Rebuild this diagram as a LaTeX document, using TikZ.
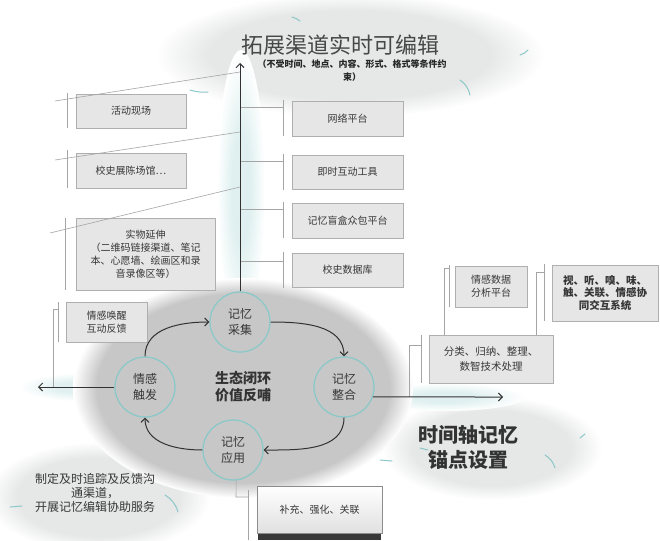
\documentclass[tikz,border=0pt]{standalone}
\usepackage{fontspec}
\setmainfont{Noto Sans CJK SC}
\usetikzlibrary{arrows.meta}
\definecolor{ellc}{RGB}{199,199,199}
\definecolor{cloudc}{RGB}{230,231,231}
\definecolor{tealc}{RGB}{140,200,200}
\definecolor{boxf}{RGB}{230,230,230}
\definecolor{boxd}{RGB}{175,175,175}
\definecolor{linec}{RGB}{165,165,165}
\definecolor{axisc}{RGB}{50,50,50}
\definecolor{txtc}{RGB}{55,55,55}
\definecolor{glowc}{RGB}{224,240,240}
\pgfdeclareradialshading{ellsoft}{\pgfpoint{0bp}{0bp}}{color(0bp)=(ellc); color(21.5bp)=(ellc); color(25bp)=(white); color(50bp)=(white)}
\pgfdeclareradialshading{cloudsoft}{\pgfpoint{0bp}{0bp}}{color(0bp)=(cloudc); color(18bp)=(cloudc); color(25bp)=(white); color(50bp)=(white)}
\pgfdeclareradialshading{glowsoft}{\pgfpoint{0bp}{0bp}}{color(0bp)=(glowc); color(10bp)=(glowc); color(25bp)=(white); color(50bp)=(white)}
\tikzset{
  gbox/.style={draw=boxd, fill=boxf, line width=0.6pt, align=center, text=txtc,
    font=\fontsize{10}{13}\selectfont, inner sep=0pt},
  memc/.style={circle, draw=tealc, line width=1.3pt, fill=ellc, minimum size=60pt,
    inner sep=0pt, align=center, text=txtc, font=\fontsize{12}{15.5}\selectfont},
  conn/.style={draw=linec, line width=0.6pt},
  axis/.style={draw=axisc, line width=1pt, -{Straight Barb[length=4pt,width=8pt]}},
  cyc/.style={draw=axisc, line width=1pt, -{Straight Barb[length=4pt,width=8pt]}},
  deco/.style={draw=tealc, line width=1pt, line cap=round}
}
\begin{document}
\begin{tikzpicture}[x=1pt,y=-1pt]
\useasboundingbox (0,0) rectangle (660,540);
\fill[white] (0,0) rectangle (660,540);
% clouds
\shade[shading=cloudsoft] (350,55) ellipse [x radius=195pt, y radius=62pt];
\shade[shading=cloudsoft] (492,448) ellipse [x radius=110pt, y radius=52pt];
\shade[shading=cloudsoft] (98,497) ellipse [x radius=112pt, y radius=55pt];
% glow along axes
\shade[shading=glowsoft] (241,190) ellipse [x radius=24pt, y radius=140pt];
\shade[shading=glowsoft] (80,387) ellipse [x radius=60pt, y radius=14pt];
\shade[shading=glowsoft] (445,397) ellipse [x radius=80pt, y radius=14pt];
% ellipse
\shade[shading=ellsoft] (243,388) ellipse [x radius=170pt, y radius=110pt];
% decorative teal strokes
\draw[deco] (292,17) to[bend left=10] (300,21);
\draw[deco] (190,90) to[bend right=10] (208,92);
\draw[deco] (520,55) to[bend right=15] (528,50);
\draw[deco] (460,80) to[bend left=20] (470,95);
\draw[deco] (380,460) -- (392,461);
\draw[deco] (545,455) to[bend left=20] (555,468);
\draw[deco] (580,438) -- (585,434);
\draw[deco] (10,507) -- (22,506);
\draw[deco] (165,495) to[bend left=20] (178,512);
\draw[deco] (420,448) -- (428,450);
% axis coordinates
\coordinate (axtop) at (240,63);
\coordinate (a1) at (240,72);
\coordinate (a2) at (240,132);
\coordinate (a3) at (240,187);
\coordinate (r1) at (240,107);
\coordinate (r2) at (240,161);
\coordinate (r3) at (240,209);
\coordinate (r4) at (240,261);
\coordinate (leftend) at (38,387);
\coordinate (rightend) at (503,397);
% boxes
\node[gbox, minimum width=110pt, minimum height=34pt] (b1) at (131,111) {活动现场};
\node[gbox, minimum width=110pt, minimum height=35pt] (b2) at (131,170.5) {校史展陈场馆…};
\node[gbox, minimum width=139pt, minimum height=72pt] (b3) at (145.5,254) {实物延伸\\（二维码链接渠道、笔记\\本、心愿墙、绘画区和录\\音录像区等）};
\node[gbox, minimum width=81pt, minimum height=40pt] (b4) at (106.5,322) {情感唤醒\\互动反馈};
\node[gbox, minimum width=111pt, minimum height=35pt] (c1) at (347.5,118.5) {网络平台};
\node[gbox, minimum width=111pt, minimum height=34pt] (c2) at (347.5,172) {即时互动工具};
\node[gbox, minimum width=111pt, minimum height=35pt] (c3) at (347.5,220.5) {记忆盲盒众包平台};
\node[gbox, minimum width=111pt, minimum height=34pt] (c4) at (347.5,270) {校史数据库};
\node[gbox, minimum width=72pt, minimum height=41pt] (d1) at (491,286.5) {情感数据\\分析平台};
\node[gbox, minimum width=106pt, minimum height=56pt, font=\fontsize{10.5}{12.5}\selectfont\bfseries] (d2) at (605,293) {视、听、嗅、味、\\触、关联、情感协\\同交互系统};
\node[gbox, minimum width=124pt, minimum height=48pt, font=\fontsize{10.5}{15}\selectfont] (d3) at (491,359) {分类、归纳、整理、\\数智技术处理};
\fill[black!78] (258,532) rectangle (381,540);
\node[gbox, draw=black!45, top color=white, bottom color=black!12, minimum width=125pt, minimum height=47pt] (e1) at (319.5,509.5) {补充、强化、关联};
% circles
\node[memc] (cj) at (240,322) {记忆\\采集};
\node[memc] (zh) at (344,387) {记忆\\整合};
\node[memc] (yy) at (233,450) {记忆\\应用};
\node[memc] (qg) at (145,387) {情感\\触发};
\node[align=center, text=black!80, font=\fontsize{14}{17}\selectfont\bfseries] (core) at (243,387) {生态闭环\\价值反哺};
% connectors left
\draw[conn] (a1) -- (55,101);
\draw[conn] (67,93) -- (67,128);
\draw[conn] (a2) -- (55,160);
\draw[conn] (67,150) -- (67,188);
\draw[conn] (a3) -- (50,233);
\draw[conn] (65,218) -- (65,290);
\draw[conn] (53,387) -- (53,309) -- (58,309);
\draw[conn] (58,302) -- (58,342);
% connectors right
\draw[conn] (r1) -- (283,107);
\draw[conn] (283,100) -- (283,136);
\draw[conn] (r2) -- (283,161);
\draw[conn] (283,154) -- (283,190);
\draw[conn] (r3) -- (283,209);
\draw[conn] (283,202) -- (283,238);
\draw[conn] (r4) -- (283,261);
\draw[conn] (283,252) -- (283,288);
\draw[conn] (409,397) -- (409,345) -- (421,345);
\draw[conn] (421,335) -- (421,383);
\draw[conn] (d3.north -| 444,0) -- (444,268) -- (449,268);
\draw[conn] (449,265) -- (449,307);
\draw[conn] (d3.north -| 536,0) -- (536,272) -- (544,272);
\draw[conn] (544,264) -- (544,321);
\draw[conn] (yy.-84) -- (236,497) -- (248,497);
\draw[conn] (248,490) -- (248,540);
% axes
\draw[axis] (cj.north) -- (axtop);
\draw[axis] (qg.west) -- (leftend);
\draw[axis] (zh.-19.5) -- (rightend);
% cycle arrows
\draw[cyc] (cj.east) to[out=0, in=90] (zh.north);
\draw[cyc] (zh.south) to[out=-90, in=0] (yy.east);
\draw[cyc] (yy.west) to[out=180, in=-90] (qg.south);
\draw[cyc] (qg.north) to[out=90, in=180] (cj.west);
% titles
\node[text=black!72, font=\fontsize{22}{26}\selectfont] (title) at (340,45) {拓展渠道实时可编辑};
\node[align=center, text=black!85, font=\fontsize{9}{13}\selectfont\bfseries] (sub) at (352,70.5) {（不受时间、地点、内容、形式、格式等条件约\\束）};
\node[align=center, text=black!80, font=\fontsize{20}{25}\selectfont\bfseries] (time) at (468,447) {时间轴记忆\\锚点设置};
\node[align=center, text=txtc, font=\fontsize{12}{14}\selectfont] (track) at (95,493) {制定及时追踪及反馈沟\\通渠道，\\开展记忆编辑协助服务};
\end{tikzpicture}
\end{document}
